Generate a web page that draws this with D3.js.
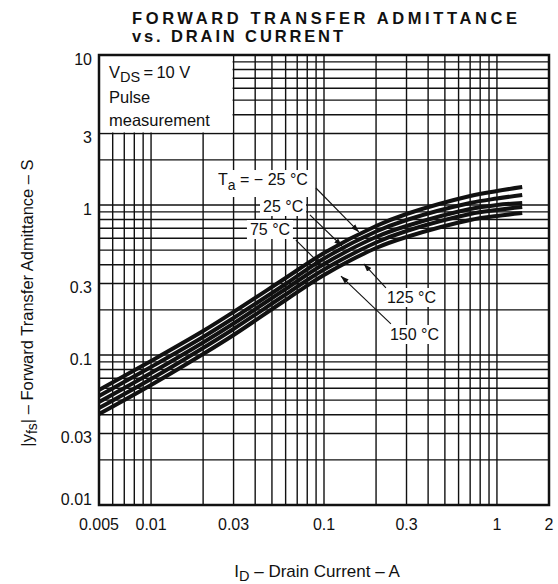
<!DOCTYPE html>
<html>
<head>
<meta charset="utf-8">
<script src="https://cdn.jsdelivr.net/npm/d3@7"></script>
<style>
  body { margin: 0; background: #fff; }
  text { font-family: "Liberation Sans", Arial, sans-serif; fill: #111; }
</style>
</head>
<body>
<svg id="chart" width="558" height="584"></svg>
<script>
// tick labels
const xTicks = [0.005, 0.01, 0.03, 0.1, 0.3, 1, 2];
const yTicks = [0.01, 0.03, 0.1, 0.3, 1, 3, 10];

// drain current (A) where the curves were read
const currents = [0.005, 0.01, 0.02, 0.03, 0.06, 0.1, 0.2, 0.3, 0.7, 1.0, 1.4];
// |yfs| (S) per ambient temperature
const yfsM25 = [0.0584, 0.0912, 0.1445, 0.1935, 0.3262, 0.4786, 0.7244, 0.871, 1.148, 1.240, 1.318];
const yfs25 = [0.0533, 0.0832, 0.1318, 0.1765, 0.2974, 0.4399, 0.6657, 0.7943, 1.031, 1.105, 1.166];
const yfs75 = [0.0486, 0.0759, 0.1212, 0.1622, 0.2754, 0.4043, 0.6119, 0.7244, 0.9404, 1.0, 1.031];
const yfs125 = [0.0443, 0.0692, 0.1114, 0.1491, 0.2531, 0.3715, 0.5623, 0.671, 0.871, 0.9261, 0.9698];
const yfs150 = [0.0404, 0.0631, 0.1015, 0.1359, 0.2326, 0.3415, 0.5168, 0.6119, 0.7943, 0.8447, 0.8844];

// temperature labels: text, x/y of text start (data units)
const tempLabels = [
  { t: "25 °C", x: 0.0444, y: 0.898 },
  { t: "75 °C", x: 0.0373, y: 0.631 },
  { t: "125 °C", x: 0.231, y: 0.2222 },
  { t: "150 °C", x: 0.2405, y: 0.1259 }
];
// leader lines with arrow at the end (data units)
const leaders = [
  { x1: 0.0898, y1: 1.298, x2: 0.159, y2: 0.661 },
  { x1: 0.0829, y1: 0.858, x2: 0.127, y2: 0.533 },
  { x1: 0.228, y1: 0.2797, x2: 0.170, y2: 0.4043 },
  { x1: 0.0688, y1: 0.584, x2: 0.0973, y2: 0.392 },
  { x1: 0.2437, y1: 0.161, x2: 0.1253, y2: 0.336 }
];

const svg = d3.select("#chart");
const pLeft = 99, pRight = 549, pTop = 55, pBottom = 505;

const x = d3.scaleLog().domain([0.005, 2]).range([pLeft, pRight]);
const y = d3.scaleLog().domain([0.01, 10]).range([pBottom, pTop]);

// grid
const grid = svg.append("g").attr("stroke", "#111").attr("stroke-width", 1.4);
grid.selectAll("line.v").data(x.ticks()).join("line")
  .attr("class", "v")
  .attr("x1", d => x(d)).attr("x2", d => x(d))
  .attr("y1", pTop).attr("y2", pBottom);
grid.selectAll("line.h").data(y.ticks()).join("line")
  .attr("class", "h")
  .attr("y1", d => y(d)).attr("y2", d => y(d))
  .attr("x1", pLeft).attr("x2", pRight);

// condition box (grid cleared)
svg.append("rect")
  .attr("x", x(0.005) + 1).attr("y", y(10) + 1)
  .attr("width", x(0.03) - x(0.005) - 2).attr("height", y(3) - y(10) - 2)
  .attr("fill", "#fff");

const cond = svg.append("g").attr("font-size", 16.5);
const vds = cond.append("text").attr("x", x(0.005) + 10).attr("y", 78);
vds.append("tspan").text("V");
vds.append("tspan").attr("dy", 4).attr("font-size", 14.5).text("DS");
vds.append("tspan").attr("dy", -4).text("\u2009=\u200910 V");
cond.append("text").attr("x", x(0.005) + 10).attr("y", 103).text("Pulse");
cond.append("text").attr("x", x(0.005) + 10).attr("y", 126).text("measurement");

// label backgrounds
const bg = svg.append("g").attr("fill", "#fff");
bg.append("rect").attr("x", x(0.0244) - 4).attr("y", y(1.359) - 15)
  .attr("width", 100).attr("height", 27);
tempLabels.forEach(l => {
  bg.append("rect").attr("x", x(l.x) - 3).attr("y", y(l.y) - 15)
    .attr("width", l.t.length * 8.4 + 4).attr("height", 19);
});

// curves
const line = d3.line()
  .x(d => x(d[0])).y(d => y(d[1]))
  .curve(d3.curveCatmullRom.alpha(0.5));
const series = [yfsM25, yfs25, yfs75, yfs125, yfs150];
svg.append("g").selectAll("path").data(series).join("path")
  .attr("d", s => line(currents.map((c, i) => [c, s[i]])))
  .attr("fill", "none").attr("stroke", "#111")
  .attr("stroke-width", 4).attr("stroke-linecap", "butt");

// leader lines + arrows
svg.append("defs").append("marker")
  .attr("id", "arr").attr("viewBox", "0 0 10 10")
  .attr("refX", 10).attr("refY", 5)
  .attr("markerWidth", 8).attr("markerHeight", 8)
  .attr("markerUnits", "userSpaceOnUse")
  .attr("orient", "auto")
  .append("path").attr("d", "M0,1.5L10,5L0,8.5Z").attr("fill", "#111");
svg.append("g").selectAll("line").data(leaders).join("line")
  .attr("x1", d => x(d.x1)).attr("y1", d => y(d.y1))
  .attr("x2", d => x(d.x2)).attr("y2", d => y(d.y2))
  .attr("stroke", "#111").attr("stroke-width", 1.1)
  .attr("marker-end", "url(#arr)");

// temperature labels
const tl = svg.append("g").attr("font-size", 16);
const ta = tl.append("text").attr("x", x(0.0244)).attr("y", y(1.359));
ta.append("tspan").text("T");
ta.append("tspan").attr("dy", 5).attr("font-size", 14).text("a");
ta.append("tspan").attr("dy", -5).text(" = − 25 °C");
tl.selectAll("text.t").data(tempLabels).join("text")
  .attr("class", "t")
  .attr("x", d => x(d.x)).attr("y", d => y(d.y)).text(d => d.t);

// frame
svg.append("rect")
  .attr("x", pLeft).attr("y", pTop)
  .attr("width", pRight - pLeft).attr("height", pBottom - pTop)
  .attr("fill", "none").attr("stroke", "#111").attr("stroke-width", 2.5);

// tick labels
const fmt = d => String(d);
svg.append("g").attr("font-size", 16).attr("text-anchor", "middle")
  .selectAll("text").data(xTicks).join("text")
  .attr("x", d => x(d)).attr("y", 530).text(fmt);
svg.append("g").attr("font-size", 16).attr("text-anchor", "end")
  .selectAll("text").data(yTicks).join("text")
  .attr("x", 92)
  .attr("y", d => Math.max(pTop + 8, Math.min(pBottom, y(d) + 10)))
  .text(fmt);

// titles
const title = svg.append("g").attr("font-size", 16.5).attr("font-weight", "bold");
title.append("text").attr("x", 132).attr("y", 24)
  .attr("textLength", 385).attr("lengthAdjust", "spacing")
  .text("FORWARD TRANSFER ADMITTANCE");
title.append("text").attr("x", 132).attr("y", 42)
  .attr("textLength", 211).attr("lengthAdjust", "spacing")
  .text("vs. DRAIN CURRENT");

// axis titles
const xl = svg.append("text").attr("x", 317).attr("y", 577)
  .attr("font-size", 17).attr("text-anchor", "middle");
xl.append("tspan").text("I");
xl.append("tspan").attr("dy", 4).attr("font-size", 14.5).text("D");
xl.append("tspan").attr("dy", -4).text(" – Drain Current – A");

const yl = svg.append("text")
  .attr("transform", "translate(33,303) rotate(-90)")
  .attr("font-size", 16.5).attr("text-anchor", "middle");
yl.append("tspan").text("|y");
yl.append("tspan").attr("dy", 4).attr("font-size", 14).text("fs");
yl.append("tspan").attr("dy", -4).text("| – Forward Transfer Admittance – S");
</script>
</body>
</html>
